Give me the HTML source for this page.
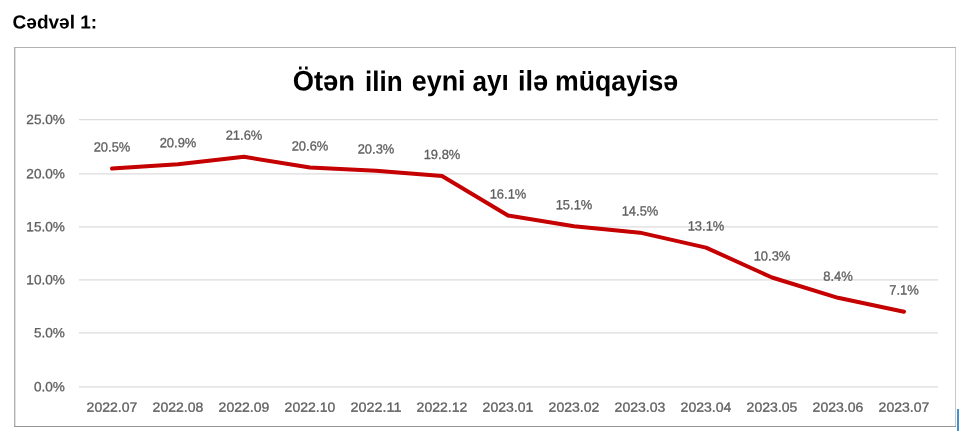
<!DOCTYPE html>
<html lang="az"><head><meta charset="utf-8"><title>Cədvəl 1</title>
<style>
html,body{margin:0;padding:0;background:#fff;}
body{width:972px;height:434px;overflow:hidden;position:relative;font-family:"Liberation Sans",sans-serif;}
svg{position:absolute;left:0;top:0;display:block;}
text{font-family:"Liberation Sans",sans-serif;}
.h{font-weight:bold;font-size:18.9px;fill:#000;}
.t{font-weight:bold;font-size:28.2px;fill:#000;}
.a{font-size:13.3px;fill:#606060;stroke:#606060;stroke-width:0.3px;}
</style></head><body>
<svg width="972" height="434" viewBox="0 0 972 434">
<rect x="0" y="0" width="972" height="434" fill="#fff"/>
<text class="h" transform="translate(12.60,28.50) rotate(-0.03)" textLength="84.6" lengthAdjust="spacingAndGlyphs">Cədvəl 1:</text>
<line x1="955.5" y1="47" x2="955.5" y2="427" stroke="#c8c8c8" stroke-width="1"/>
<line x1="14" y1="47.5" x2="956" y2="47.5" stroke="#b2b2b2" stroke-width="1"/>
<line x1="15.5" y1="48" x2="15.5" y2="426" stroke="#e0e0e0" stroke-width="1"/>
<line x1="14.5" y1="47" x2="14.5" y2="427" stroke="#b0b0b0" stroke-width="1"/>
<line x1="14" y1="426.5" x2="956" y2="426.5" stroke="#969696" stroke-width="1"/>
<rect x="957" y="409" width="2" height="22" fill="#4690ce"/>
<line x1="78.9" y1="386.80" x2="938.0" y2="386.80" stroke="#dcdcdc" stroke-width="1.3"/>
<line x1="78.9" y1="332.90" x2="938.0" y2="332.90" stroke="#dcdcdc" stroke-width="1.3"/>
<line x1="78.9" y1="279.90" x2="938.0" y2="279.90" stroke="#dcdcdc" stroke-width="1.3"/>
<line x1="78.9" y1="226.90" x2="938.0" y2="226.90" stroke="#dcdcdc" stroke-width="1.3"/>
<line x1="78.9" y1="173.80" x2="938.0" y2="173.80" stroke="#dcdcdc" stroke-width="1.3"/>
<line x1="78.9" y1="119.70" x2="938.0" y2="119.70" stroke="#dcdcdc" stroke-width="1.3"/>
<text class="a" transform="translate(64.90,391.20) rotate(-0.03)" text-anchor="end" textLength="30.9" lengthAdjust="spacingAndGlyphs">0.0%</text>
<text class="a" transform="translate(64.90,337.30) rotate(-0.03)" text-anchor="end" textLength="30.9" lengthAdjust="spacingAndGlyphs">5.0%</text>
<text class="a" transform="translate(64.90,284.30) rotate(-0.03)" text-anchor="end" textLength="38.6" lengthAdjust="spacingAndGlyphs">10.0%</text>
<text class="a" transform="translate(64.90,231.30) rotate(-0.03)" text-anchor="end" textLength="38.6" lengthAdjust="spacingAndGlyphs">15.0%</text>
<text class="a" transform="translate(64.90,178.20) rotate(-0.03)" text-anchor="end" textLength="38.6" lengthAdjust="spacingAndGlyphs">20.0%</text>
<text class="a" transform="translate(64.90,124.10) rotate(-0.03)" text-anchor="end" textLength="38.6" lengthAdjust="spacingAndGlyphs">25.0%</text>
<text class="t" transform="translate(292.7,90.6) rotate(-0.03)"><tspan x="0.0" textLength="62.3" lengthAdjust="spacingAndGlyphs">Ötən</tspan> <tspan x="72.4" textLength="37.7" lengthAdjust="spacingAndGlyphs">ilin</tspan> <tspan x="119.0" textLength="53.9" lengthAdjust="spacingAndGlyphs">eyni</tspan> <tspan x="179.8" textLength="36.3" lengthAdjust="spacingAndGlyphs">ayı</tspan> <tspan x="225.3" textLength="30.2" lengthAdjust="spacingAndGlyphs">ilə</tspan> <tspan x="262.3" textLength="123.2" lengthAdjust="spacingAndGlyphs">müqayisə</tspan></text>
<polyline points="112.00,168.56 178.00,164.29 244.00,156.81 310.00,167.49 376.00,170.70 442.00,176.04 508.00,215.55 574.00,226.23 640.00,232.64 706.00,247.59 772.00,277.50 838.00,297.79 904.00,311.67" fill="none" stroke="#c40000" stroke-width="4.0" stroke-linecap="round" stroke-linejoin="round"/>
<text class="a" transform="translate(112.00,151.46) rotate(-0.03)" text-anchor="middle" textLength="36.7" lengthAdjust="spacingAndGlyphs">20.5%</text>
<text class="a" transform="translate(178.00,147.19) rotate(-0.03)" text-anchor="middle" textLength="36.7" lengthAdjust="spacingAndGlyphs">20.9%</text>
<text class="a" transform="translate(244.00,139.71) rotate(-0.03)" text-anchor="middle" textLength="36.7" lengthAdjust="spacingAndGlyphs">21.6%</text>
<text class="a" transform="translate(310.00,150.39) rotate(-0.03)" text-anchor="middle" textLength="36.7" lengthAdjust="spacingAndGlyphs">20.6%</text>
<text class="a" transform="translate(376.00,153.60) rotate(-0.03)" text-anchor="middle" textLength="36.7" lengthAdjust="spacingAndGlyphs">20.3%</text>
<text class="a" transform="translate(442.00,158.94) rotate(-0.03)" text-anchor="middle" textLength="36.7" lengthAdjust="spacingAndGlyphs">19.8%</text>
<text class="a" transform="translate(508.00,198.45) rotate(-0.03)" text-anchor="middle" textLength="36.7" lengthAdjust="spacingAndGlyphs">16.1%</text>
<text class="a" transform="translate(574.00,209.13) rotate(-0.03)" text-anchor="middle" textLength="36.7" lengthAdjust="spacingAndGlyphs">15.1%</text>
<text class="a" transform="translate(640.00,215.54) rotate(-0.03)" text-anchor="middle" textLength="36.7" lengthAdjust="spacingAndGlyphs">14.5%</text>
<text class="a" transform="translate(706.00,230.49) rotate(-0.03)" text-anchor="middle" textLength="36.7" lengthAdjust="spacingAndGlyphs">13.1%</text>
<text class="a" transform="translate(772.00,260.40) rotate(-0.03)" text-anchor="middle" textLength="36.7" lengthAdjust="spacingAndGlyphs">10.3%</text>
<text class="a" transform="translate(838.00,280.69) rotate(-0.03)" text-anchor="middle" textLength="29.6" lengthAdjust="spacingAndGlyphs">8.4%</text>
<text class="a" transform="translate(904.00,294.57) rotate(-0.03)" text-anchor="middle" textLength="29.6" lengthAdjust="spacingAndGlyphs">7.1%</text>
<text class="a" transform="translate(112.00,411.70) rotate(-0.03)" text-anchor="middle" textLength="50.8" lengthAdjust="spacingAndGlyphs">2022.07</text>
<text class="a" transform="translate(178.00,411.70) rotate(-0.03)" text-anchor="middle" textLength="50.8" lengthAdjust="spacingAndGlyphs">2022.08</text>
<text class="a" transform="translate(244.00,411.70) rotate(-0.03)" text-anchor="middle" textLength="50.8" lengthAdjust="spacingAndGlyphs">2022.09</text>
<text class="a" transform="translate(310.00,411.70) rotate(-0.03)" text-anchor="middle" textLength="50.8" lengthAdjust="spacingAndGlyphs">2022.10</text>
<text class="a" transform="translate(376.00,411.70) rotate(-0.03)" text-anchor="middle" textLength="50.8" lengthAdjust="spacingAndGlyphs">2022.11</text>
<text class="a" transform="translate(442.00,411.70) rotate(-0.03)" text-anchor="middle" textLength="50.8" lengthAdjust="spacingAndGlyphs">2022.12</text>
<text class="a" transform="translate(508.00,411.70) rotate(-0.03)" text-anchor="middle" textLength="50.8" lengthAdjust="spacingAndGlyphs">2023.01</text>
<text class="a" transform="translate(574.00,411.70) rotate(-0.03)" text-anchor="middle" textLength="50.8" lengthAdjust="spacingAndGlyphs">2023.02</text>
<text class="a" transform="translate(640.00,411.70) rotate(-0.03)" text-anchor="middle" textLength="50.8" lengthAdjust="spacingAndGlyphs">2023.03</text>
<text class="a" transform="translate(706.00,411.70) rotate(-0.03)" text-anchor="middle" textLength="50.8" lengthAdjust="spacingAndGlyphs">2023.04</text>
<text class="a" transform="translate(772.00,411.70) rotate(-0.03)" text-anchor="middle" textLength="50.8" lengthAdjust="spacingAndGlyphs">2023.05</text>
<text class="a" transform="translate(838.00,411.70) rotate(-0.03)" text-anchor="middle" textLength="50.8" lengthAdjust="spacingAndGlyphs">2023.06</text>
<text class="a" transform="translate(904.00,411.70) rotate(-0.03)" text-anchor="middle" textLength="50.8" lengthAdjust="spacingAndGlyphs">2023.07</text>
</svg></body></html>
